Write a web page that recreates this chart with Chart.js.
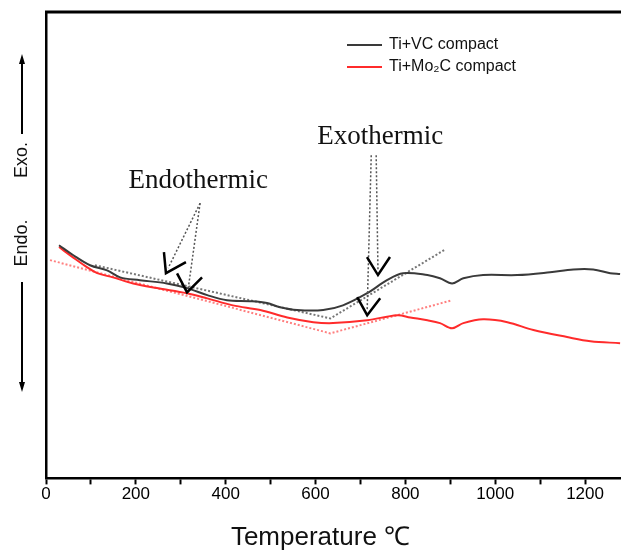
<!DOCTYPE html>
<html>
<head>
<meta charset="utf-8">
<script src="https://cdn.jsdelivr.net/npm/chart.js@4"></script>
<style>
  html, body { margin: 0; padding: 0; background: #fff; }
  #wrap { width: 621px; height: 553px; }
</style>
</head>
<body>
<div id="wrap"><canvas id="c"></canvas></div>
<script>
// temperature (°C) and DTA signal (arbitrary units)
const vcTemp = [29, 60, 98, 136, 165, 209, 269, 314, 359, 403, 454, 492, 521, 559, 617, 661, 715, 759, 795, 849, 877, 904, 929, 973, 1049, 1122, 1174, 1218, 1256, 1278]
const vcSignal = [50.0, 47.9, 45.7, 44.6, 43.1, 42.5, 41.8, 40.8, 39.3, 38.2, 38.0, 37.6, 36.7, 36.1, 36.1, 37.1, 39.7, 42.5, 44.0, 43.6, 42.9, 41.8, 42.9, 43.6, 43.6, 44.2, 44.8, 44.8, 44.0, 43.8]

const moTemp = [29, 60, 91, 114, 149, 194, 247, 314, 359, 416, 477, 537, 595, 639, 715, 782, 811, 849, 877, 904, 929, 973, 1027, 1085, 1160, 1212, 1278]
const moSignal = [49.6, 47.4, 45.3, 44.0, 43.1, 41.8, 40.8, 39.7, 38.6, 37.1, 36.1, 34.5, 33.5, 33.3, 33.9, 35.0, 34.5, 33.9, 33.3, 32.2, 33.3, 34.1, 33.5, 31.8, 30.3, 29.4, 29.0]

// tangent construction lines
const vcTangentTemp = [109, 633, 889]
const vcTangentSignal = [45.7, 34.3, 49.1]
const moTangentTemp = [9, 633, 904]
const moTangentSignal = [46.8, 31.1, 38.2]

const xTicks = [0, 100, 200, 300, 400, 500, 600, 700, 800, 900, 1000, 1100, 1200]

function pts (xs, ys) {
  return xs.map((x, i) => ({ x: x, y: ys[i] }))
}

// arrow annotations, in data units
const notes = [
  { text: 'Endothermic', x: 339, y: 63.7, from: [343, 59.0], to: [[272, 45.1], [316, 40.3]] },
  { text: 'Exothermic', x: 744, y: 73.2, from: [735, 69.3], to: [[739, 44.6]] },
  { text: '', x: 0, y: 0, from: [724, 69.3], to: [[715, 36.1]] }
]
const vMarks = [
  { x: 267, y: 44.0, arms: [[-2, -21], [20, -11]] },
  { x: 314, y: 39.9, arms: [[-10, -19], [15, -15]] },
  { x: 739, y: 43.6, arms: [[-11, -18], [12, -18]] },
  { x: 715, y: 35.0, arms: [[-10, -18], [13, -17]] }
]

const extras = {
  id: 'extras',
  afterDatasetsDraw (chart) {
    const ctx = chart.ctx
    const a = chart.chartArea
    const xs = chart.scales.x
    const ys = chart.scales.y
    const px = v => xs.getPixelForValue(v)
    const py = v => ys.getPixelForValue(v)
    ctx.save()

    // top frame line
    ctx.strokeStyle = '#000'
    ctx.lineWidth = 3
    ctx.beginPath()
    ctx.moveTo(a.left - 1, a.top)
    ctx.lineTo(a.right, a.top)
    ctx.stroke()

    // dotted arrows and labels
    ctx.setLineDash([2, 2])
    ctx.lineWidth = 1.5
    ctx.strokeStyle = '#555'
    notes.forEach(n => {
      n.to.forEach(t => {
        ctx.beginPath()
        ctx.moveTo(px(n.from[0]), py(n.from[1]))
        ctx.lineTo(px(t[0]), py(t[1]))
        ctx.stroke()
      })
    })
    ctx.setLineDash([])
    ctx.fillStyle = '#111'
    ctx.font = '27px "Liberation Serif"'
    ctx.textAlign = 'center'
    ctx.textBaseline = 'middle'
    notes.forEach(n => {
      if (n.text) ctx.fillText(n.text, px(n.x), py(n.y))
    })

    // V heads
    ctx.strokeStyle = '#000'
    ctx.lineWidth = 2.5
    ctx.lineJoin = 'miter'
    vMarks.forEach(m => {
      const vx = px(m.x)
      const vy = py(m.y)
      ctx.beginPath()
      ctx.moveTo(vx + m.arms[0][0], vy + m.arms[0][1])
      ctx.lineTo(vx, vy)
      ctx.lineTo(vx + m.arms[1][0], vy + m.arms[1][1])
      ctx.stroke()
    })

    // legend
    ctx.font = '16px "Liberation Sans"'
    ctx.textAlign = 'left'
    const legendItems = [chart.data.datasets[0], chart.data.datasets[1]]
    legendItems.forEach((d, i) => {
      const ly = a.top + 33 + i * 22
      ctx.strokeStyle = d.borderColor
      ctx.lineWidth = 2
      ctx.beginPath()
      ctx.moveTo(a.left + 301, ly)
      ctx.lineTo(a.left + 336, ly)
      ctx.stroke()
      ctx.fillStyle = '#111'
      ctx.fillText(d.label, a.left + 343, ly)
    })

    // Exo / Endo side label
    ctx.fillStyle = '#111'
    ctx.font = '18px "Liberation Sans"'
    ctx.textAlign = 'center'
    ctx.textBaseline = 'middle'
    const sx = 22
    ctx.save()
    ctx.translate(sx, 160)
    ctx.rotate(-Math.PI / 2)
    ctx.fillText('Exo.', 0, 0)
    ctx.restore()
    ctx.save()
    ctx.translate(sx, 243)
    ctx.rotate(-Math.PI / 2)
    ctx.fillText('Endo.', 0, 0)
    ctx.restore()
    ctx.strokeStyle = '#000'
    ctx.lineWidth = 2
    ctx.beginPath()
    ctx.moveTo(sx, 134)
    ctx.lineTo(sx, 60)
    ctx.moveTo(sx, 282)
    ctx.lineTo(sx, 386)
    ctx.stroke()
    ctx.fillStyle = '#000'
    ctx.beginPath()
    ctx.moveTo(sx, 54); ctx.lineTo(sx - 3, 64); ctx.lineTo(sx + 3, 64); ctx.closePath()
    ctx.moveTo(sx, 392); ctx.lineTo(sx - 3, 382); ctx.lineTo(sx + 3, 382); ctx.closePath()
    ctx.fill()

    ctx.restore()
  }
}

function build () {
  const ctx = document.getElementById('c').getContext('2d')

  const chart = new Chart(
    ctx,
    {
      type: 'line',
      data: {
        datasets: [
          {
            label: 'Ti+VC compact',
            data: pts(vcTemp, vcSignal),
            borderColor: '#3a3a3a',
            borderWidth: 2,
            pointRadius: 0,
            tension: 0.35
          },
          {
            label: 'Ti+Mo₂C compact',
            data: pts(moTemp, moSignal),
            borderColor: '#ff2b2b',
            borderWidth: 2,
            pointRadius: 0,
            tension: 0.35
          },
          {
            label: 'VC tangent',
            data: pts(vcTangentTemp, vcTangentSignal),
            borderColor: '#777',
            borderWidth: 2,
            borderDash: [2, 2],
            pointRadius: 0,
            tension: 0
          },
          {
            label: 'Mo2C tangent',
            data: pts(moTangentTemp, moTangentSignal),
            borderColor: '#ff8080',
            borderWidth: 2,
            borderDash: [2, 2],
            pointRadius: 0,
            tension: 0
          }
        ]
      },
      options: {
        responsive: true,
        maintainAspectRatio: false,
        animation: false,
        layout: {
          padding: { top: 12, left: 38, right: 0, bottom: 0 }
        },
        scales: {
          x: {
            type: 'linear',
            min: 0,
            max: 1280,
            afterBuildTicks: axis => {
              axis.ticks = xTicks.map(v => ({ value: v }))
            },
            ticks: {
              color: '#000',
              padding: 0,
              maxRotation: 0,
              autoSkip: false,
              font: { family: 'Liberation Sans', size: 17 },
              callback: function (value) {
                return value % 200 === 0 ? value : ''
              }
            },
            grid: {
              display: true,
              drawOnChartArea: false,
              tickLength: 6,
              tickColor: '#000',
              tickWidth: 2
            },
            border: { color: '#000', width: 2.5 },
            title: {
              display: true,
              text: 'Temperature ℃\u2003',
              color: '#111',
              font: { family: 'Liberation Sans', size: 26 },
              padding: { top: 17, bottom: 0 }
            }
          },
          y: {
            min: 0,
            max: 100,
            ticks: { display: false },
            grid: { display: false },
            border: { color: '#000', width: 2.5 }
          }
        },
        plugins: {
          legend: { display: false },
          tooltip: { enabled: false }
        }
      },
      plugins: [extras]
    }
  )
}

build()
</script>
</body>
</html>
